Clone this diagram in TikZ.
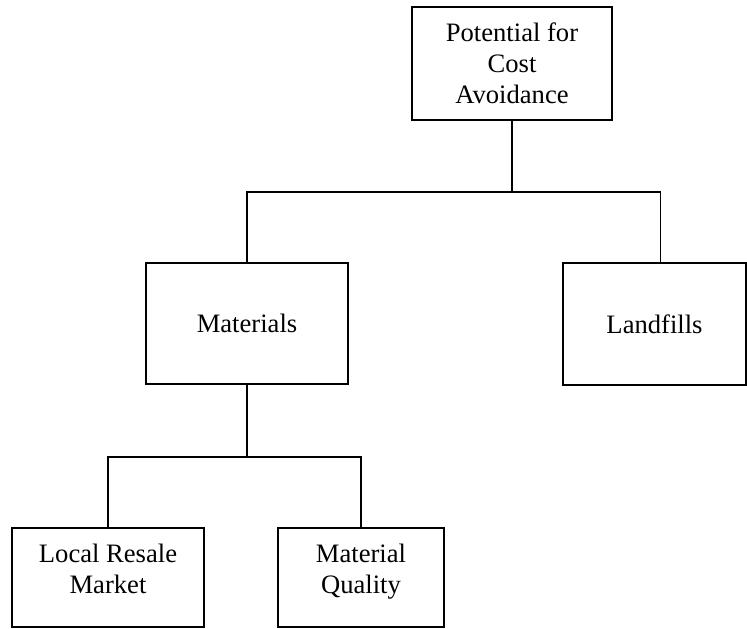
\documentclass[tikz,border=0pt]{standalone}
\usepackage{fontspec}
\setmainfont{Liberation Serif}
\begin{document}
\begin{tikzpicture}[x=0.5pt,y=-0.5pt,
  box/.style={draw,line width=0.9pt,align=center,inner sep=0pt,
    font=\fontsize{13.3}{15.5}\selectfont},
  link/.style={line width=0.9pt}]
\useasboundingbox (0,0) rectangle (747,628);

\node[box,minimum width=100pt,minimum height=56.5pt] (cost) at (512,63.5) {Potential for\\Cost\\Avoidance};

\node[box,minimum width=101pt,minimum height=60.5pt] (mat) at (247,323.5) {Materials};
\node[box,minimum width=91.5pt,minimum height=61pt] (land) at (654.5,324) {Landfills};

\node[box,minimum width=96pt,minimum height=49.5pt,text depth=9pt] (resale) at (108,577.5) {Local Resale\\Market};
\node[box,minimum width=83pt,minimum height=49.5pt,text depth=9pt] (qual) at (361,577.5) {Material\\Quality};

\coordinate (top) at (512,192);
\coordinate (low) at (247,457);

\draw[link] (cost.south) -- (top);
\draw[link] (mat.north) |- (top) -| ([xshift=3pt]land.north);
\draw[link] (mat.south) -- (low);
\draw[link] (resale.north) |- (low) -| (qual.north);

\end{tikzpicture}
\end{document}
